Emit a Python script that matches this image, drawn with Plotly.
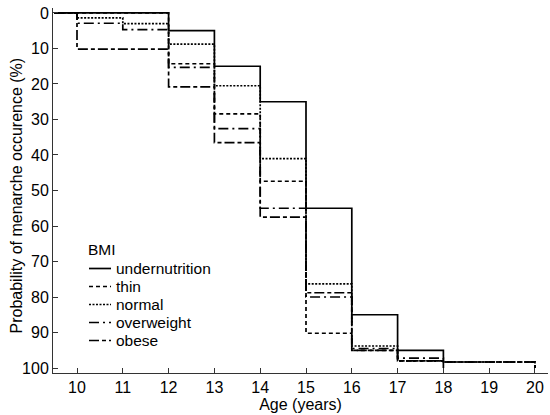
import plotly.graph_objects as go

ages = [9.5, 10, 11, 12, 13, 14, 15, 16, 17, 18, 19, 20]
undernutrition = [0, 0, 0, 5, 15, 25, 55, 85, 95, 100, None, None]
thin = [0, 0, 0, 14.3, 28.4, 47.4, 90.2, 95, 98, 98.3, 98.3, 100]
normal = [0, 1.4, 3, 8.8, 20.5, 41, 76.3, 93.8, 98, 98.3, 98.3, 100]
overweight = [0, 2.9, 4.7, 15.3, 32.6, 55, 80, 94.5, 97.2, 98.3, 98.3, 100]
obese = [0, 10.2, 10.2, 20.8, 36.5, 57.5, 78.8, 95, 98, 98.3, 98.3, 100]

series = [
    ("undernutrition", undernutrition, "solid"),
    ("thin", thin, "4px,3px"),
    ("normal", normal, "2px,1.5px"),
    ("overweight", overweight, "10px,4px,2px,4px"),
    ("obese", obese, "10px,3px,4px,3px"),
]

x_ticks = list(range(10, 21))
y_ticks = list(range(0, 101, 10))

fig = go.Figure()
for name, vals, dash in series:
    fig.add_trace(go.Scatter(
        x=ages, y=vals, name=name, mode="lines", showlegend=False,
        line=dict(color="black", width=1.7, dash=dash, shape="hv"),
    ))

# Plot area geometry (pixels) used for a manual legend
L, R, T, B = 53, 548, 8, 373
def px(x):
    return (x - L) / (R - L)
def py(y):
    return (B - y) / (B - T)

font = "Liberation Sans, Arial, sans-serif"
LEG = 15.5
shapes = []
annotations = [
    dict(x=px(86), y=py(250), xref="paper", yref="paper", text="BMI",
         showarrow=False, xanchor="left", yanchor="middle", font=dict(size=LEG)),
    dict(x=px(15.5), y=py(196), xref="paper", yref="paper",
         text="Probability of menarche occurence (%)", textangle=-90,
         showarrow=False, xanchor="center", yanchor="middle", font=dict(size=16)),
]
row_y = [268.5, 286.5, 304.5, 322.5, 340.5]
for (name, vals, dash), ry in zip(series, row_y):
    shapes.append(dict(
        type="line", xref="paper", yref="paper",
        x0=px(89), x1=px(111), y0=py(ry), y1=py(ry),
        line=dict(color="black", width=1.7, dash=dash),
    ))
    annotations.append(dict(
        x=px(114), y=py(ry - 0.5), xref="paper", yref="paper", text=name,
        showarrow=False, xanchor="left", yanchor="middle", font=dict(size=LEG),
    ))

fig.update_layout(
    width=550, height=415,
    margin=dict(l=L, r=550 - R, t=T, b=415 - B),
    paper_bgcolor="white", plot_bgcolor="white",
    font=dict(family=font, size=16, color="black"),
    showlegend=False,
    shapes=shapes,
    annotations=annotations,
    xaxis=dict(
        range=[9.476, 20.284], tickvals=x_ticks, ticktext=[str(v) for v in x_ticks],
        ticks="inside", ticklen=5, tickcolor="#333", showline=True, linecolor="#333",
        linewidth=1, showgrid=False, zeroline=False,
        title=dict(text="Age (years)", standoff=1, font=dict(size=16)),
        tickfont=dict(size=16),
    ),
    yaxis=dict(
        range=[101.4, -1.4], tickvals=y_ticks, ticktext=[str(v) for v in y_ticks],
        ticks="inside", ticklen=5, tickcolor="#333", showline=True, linecolor="#333",
        linewidth=1, showgrid=False, zeroline=False,
        tickfont=dict(size=16),
    ),
)

fig.write_html("out.html")
